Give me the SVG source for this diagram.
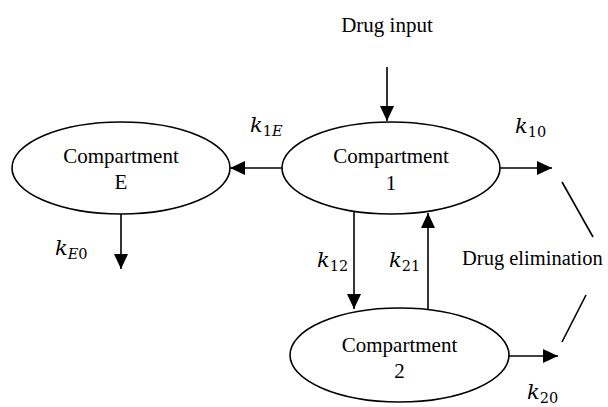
<svg xmlns="http://www.w3.org/2000/svg" width="608" height="407" viewBox="0 0 608 407">
<style>
.node{fill:#fff;stroke:#000;stroke-width:1.6}
.lbl{font-family:"Liberation Serif","Times New Roman",serif;font-size:21px;fill:#000}
.k{font-family:"DejaVu Serif",serif;font-size:21px;font-style:italic;fill:#000}
.sub{font-size:14.5px;font-style:normal}
.subi{font-size:14.5px;font-style:italic}
.c{stroke:#000;stroke-width:1.6;fill:none}
</style>
<defs>
<marker id="ah" markerUnits="userSpaceOnUse" markerWidth="15" markerHeight="14" refX="15" refY="7" viewBox="0 0 15 14" orient="auto">
<path d="M0,0 L15,7 L0,14 z" fill="#000"/>
</marker>
</defs>
<rect width="608" height="407" fill="#fff"/>
<g id="connectors">
<line class="c" x1="387" y1="67" x2="387" y2="121" marker-end="url(#ah)"/>
<line class="c" x1="282" y1="168" x2="230" y2="168" marker-end="url(#ah)"/>
<line class="c" x1="500" y1="168" x2="552" y2="168" marker-end="url(#ah)"/>
<line class="c" x1="121" y1="213" x2="121" y2="269" marker-end="url(#ah)"/>
<line class="c" x1="354" y1="212" x2="354" y2="309" marker-end="url(#ah)"/>
<line class="c" x1="428" y1="310" x2="428" y2="213" marker-end="url(#ah)"/>
<line class="c" x1="509" y1="356" x2="558" y2="356" marker-end="url(#ah)"/>
<line class="c" x1="562" y1="182" x2="593" y2="237"/>
<line class="c" x1="586" y1="295" x2="562" y2="342"/>
</g>
<g id="drug-input">
<text class="lbl" x="387" y="32" text-anchor="middle">Drug input</text>
</g>
<g id="compartment-E">
<ellipse class="node" cx="121" cy="168" rx="109" ry="46"/>
<text class="lbl" x="121" y="163" text-anchor="middle">Compartment</text>
<text class="lbl" x="121" y="189" text-anchor="middle">E</text>
</g>
<g id="compartment-1">
<ellipse class="node" cx="391" cy="168" rx="109" ry="46"/>
<text class="lbl" x="391" y="163" text-anchor="middle">Compartment</text>
<text class="lbl" x="391" y="190" text-anchor="middle">1</text>
</g>
<g id="compartment-2">
<ellipse class="node" cx="399.5" cy="355" rx="109.5" ry="47"/>
<text class="lbl" x="399.5" y="352" text-anchor="middle">Compartment</text>
<text class="lbl" x="399.5" y="378" text-anchor="middle">2</text>
</g>
<g id="drug-elimination">
<text class="lbl" x="462" y="265" style="font-size:20.5px">Drug elimination</text>
</g>
<g id="rate-labels">
<text class="k" x="250" y="132">k<tspan class="sub" dy="4">1</tspan><tspan class="subi">E</tspan></text>
<text class="k" x="515" y="133">k<tspan class="sub" dy="4">10</tspan></text>
<text class="k" x="55" y="255">k<tspan class="subi" dy="4">E</tspan><tspan class="sub">0</tspan></text>
<text class="k" x="317" y="267">k<tspan class="sub" dy="4">12</tspan></text>
<text class="k" x="389" y="267">k<tspan class="sub" dy="4">21</tspan></text>
<text class="k" x="527" y="399">k<tspan class="sub" dy="4">20</tspan></text>
</g>
</svg>
